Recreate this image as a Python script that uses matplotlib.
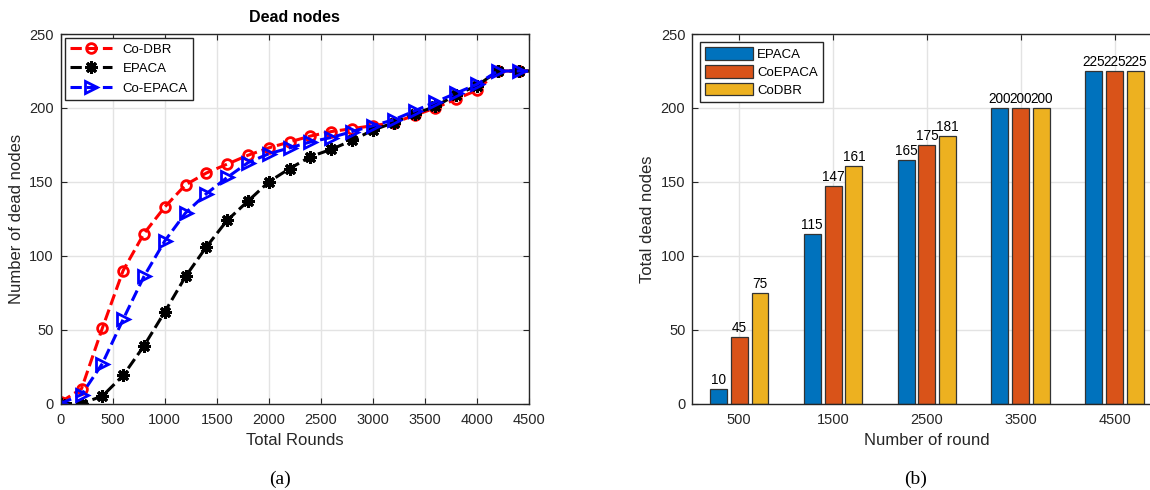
import numpy as np
import matplotlib
matplotlib.use('Agg')
import matplotlib.pyplot as plt

plt.rcParams['font.family'] = ['Liberation Sans', 'DejaVu Sans']

# left panel: dead nodes per round
rounds = [0, 200, 400, 600, 800, 1000, 1200, 1400, 1600, 1800, 2000, 2200,
          2400, 2600, 2800, 3000, 3200, 3400, 3600, 3800, 4000, 4200, 4400, 4600]
co_dbr = [1, 10, 51, 90, 115, 133, 148, 156, 162, 168, 173, 177,
          181, 184, 186, 188, 190, 195, 200, 206, 212, 225, 225, 225]
epaca = [0, 0, 5, 19, 39, 62, 86, 106, 124, 137, 150, 159,
         167, 172, 178, 185, 190, 196, 201, 209, 215, 225, 225, 225]
co_epaca = [0, 6, 27, 57, 86, 110, 129, 142, 153, 163, 169, 173,
            177, 180, 184, 188, 192, 198, 204, 210, 216, 225, 225, 225]

# right panel: grouped bars
round_labels = ['500', '1500', '2500', '3500', '4500']
bar_epaca = [10, 115, 165, 200, 225]
bar_coepaca = [45, 147, 175, 200, 225]
bar_codbr = [75, 161, 181, 200, 225]

axcol = '#262626'
gridcol = '#e3e3e3'

fig = plt.figure(figsize=(11.5, 4.9), dpi=100)

def style_axes(ax):
    ax.grid(True, color=gridcol, linewidth=1.0)
    ax.set_axisbelow(True)
    for s in ax.spines.values():
        s.set_color(axcol)
        s.set_linewidth(1.0)
    ax.tick_params(direction='in', top=True, right=True, colors=axcol,
                   labelsize=10.5, length=4)
    ax.tick_params(axis='x', pad=7)
    ax.tick_params(axis='y', pad=5)

ax1 = fig.add_axes([0.0528, 0.1765, 0.4072, 0.754])
ax1.plot(rounds, co_dbr, '--', color='red', lw=2.2, marker='o', ms=7,
         mfc='none', mew=2, label='Co-DBR')
ax1.plot(rounds, epaca, '--', color='black', lw=2.2, marker=(8, 2, 0), ms=9,
         mew=2.2, label='EPACA')
ax1.plot(rounds, co_epaca, '--', color='blue', lw=2.2, marker='>', ms=8,
         mfc='none', mew=2, label='Co-EPACA')
ax1.set_xlim(0, 4500)
ax1.set_ylim(0, 250)
ax1.set_xticks(np.arange(0, 4501, 500))
ax1.set_yticks(np.arange(0, 251, 50))
style_axes(ax1)
ax1.set_xlabel('Total Rounds', fontsize=12, color=axcol, labelpad=4)
ax1.set_ylabel('Number of dead nodes', fontsize=12, color=axcol, labelpad=4)
ax1.set_title('Dead nodes', fontsize=11.5, fontweight='bold', pad=9)
leg1 = ax1.legend(loc='upper left', fontsize=9.5, handlelength=3.2,
                  fancybox=False, edgecolor=axcol, framealpha=1,
                  borderaxespad=0.3, labelspacing=0.55)
leg1.get_frame().set_linewidth(1.0)

ax2 = fig.add_axes([0.602, 0.1765, 0.408, 0.754])
x = np.arange(1, len(round_labels) + 1)
w = 0.18
off = 0.222
series = [(bar_epaca, '#0072BD', 'EPACA', -off),
          (bar_coepaca, '#D95319', 'CoEPACA', 0.0),
          (bar_codbr, '#EDB120', 'CoDBR', off)]
for vals, col, name, dx in series:
    bars = ax2.bar(x + dx, vals, width=w, color=col, edgecolor='#333333',
                   linewidth=0.9, label=name)
    for b, v in zip(bars, vals):
        ax2.text(b.get_x() + b.get_width() / 2, v + 1.2, str(v),
                 ha='center', va='bottom', fontsize=9.8, color='black')
ax2.set_xlim(0.5, 5.5)
ax2.set_ylim(0, 250)
ax2.set_xticks(x)
ax2.set_xticklabels(round_labels)
ax2.set_yticks(np.arange(0, 251, 50))
style_axes(ax2)
ax2.set_xlabel('Number of round', fontsize=12, color=axcol, labelpad=4)
ax2.set_ylabel('Total dead nodes', fontsize=12, color=axcol, labelpad=4)
leg2 = ax2.legend(loc='upper left', fontsize=9.5, handlelength=3.6,
                  handleheight=1.1, fancybox=False, edgecolor=axcol,
                  framealpha=1, borderaxespad=0.6, labelspacing=0.3,
                  handletextpad=0.3)
leg2.get_frame().set_linewidth(1.0)

fig.text(0.2435, 0.022, '(a)', family='Liberation Serif', fontsize=14,
         ha='center', va='center')
fig.text(0.796, 0.022, '(b)', family='Liberation Serif', fontsize=14,
         ha='center', va='center')

fig.savefig('out.png', dpi=100)
